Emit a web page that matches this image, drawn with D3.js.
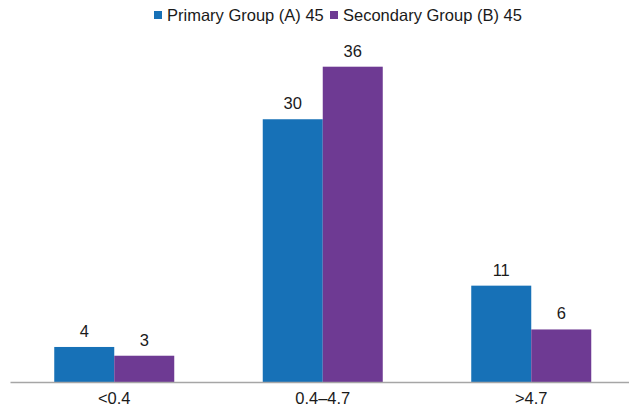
<!DOCTYPE html>
<html>
<head>
<meta charset="utf-8">
<script src="https://cdn.jsdelivr.net/npm/d3@7"></script>
<style>
  body { margin: 0; background: #fff; }
  text { font-family: "Liberation Sans", Arial, sans-serif; fill: #1a1a1a; }
</style>
</head>
<body>
<div id="chart"></div>
<script>
// Chart data
var categories = ['<0.4', '0.4\u20134.7', '>4.7'],
    seriesNames = ['Primary Group (A) 45', 'Secondary Group (B) 45'],
    primaryValues = [4, 30, 11],
    secondaryValues = [3, 36, 6],
    colors = ['#1771b7', '#6e3a93'];

var width = 629,
    height = 408,
    baseY = 382,
    fontSize = 16.5;

var svg = d3.select('#chart').append('svg')
    .attr('width', width)
    .attr('height', height);

var x = d3.scaleBand()
    .domain(categories)
    .range([10, 635.5])
    .paddingInner(0)
    .paddingOuter(0);

var xInner = d3.scaleBand()
    .domain(seriesNames)
    .range([0, x.bandwidth()])
    .paddingInner(0)
    .paddingOuter(0.7375);

var y = d3.scaleLinear()
    .domain([0, 36])
    .range([baseY, 66.7]);

var rows = categories.map(function(c, i) {
    return { cat: c, values: [primaryValues[i], secondaryValues[i]] };
});

var groups = svg.selectAll('g.group').data(rows).enter()
    .append('g')
    .attr('class', 'group')
    .attr('transform', function(d) { return 'translate(' + x(d.cat) + ',0)'; });

groups.selectAll('rect').data(function(d) {
        return d.values.map(function(v, j) { return { name: seriesNames[j], value: v, idx: j }; });
    }).enter()
    .append('rect')
    .attr('x', function(d) { return xInner(d.name); })
    .attr('y', function(d) { return y(d.value); })
    .attr('width', xInner.bandwidth())
    .attr('height', function(d) { return baseY - y(d.value); })
    .attr('fill', function(d) { return colors[d.idx]; });

// Value labels
groups.selectAll('text.value').data(function(d) {
        return d.values.map(function(v, j) { return { name: seriesNames[j], value: v }; });
    }).enter()
    .append('text')
    .attr('class', 'value')
    .attr('x', function(d) { return xInner(d.name) + xInner.bandwidth() / 2; })
    .attr('y', function(d) { return y(d.value) - 10; })
    .attr('text-anchor', 'middle')
    .style('font-size', fontSize + 'px')
    .text(function(d) { return d.value; });

// X axis
var xAxis = svg.append('g')
    .attr('transform', 'translate(0,' + baseY + ')')
    .call(d3.axisBottom(x).tickSize(0).tickPadding(10));
xAxis.select('.domain').attr('stroke', '#a6a6a6').attr('stroke-width', 1.5);
xAxis.selectAll('text')
    .style('font-size', fontSize + 'px')
    .style('font-family', '"Liberation Sans", Arial, sans-serif')
    .attr('fill', '#1a1a1a');

// Legend
var legend = svg.append('g').attr('class', 'legend');
var legendX = [154, 330];
seriesNames.forEach(function(name, i) {
    legend.append('rect')
        .attr('x', legendX[i])
        .attr('y', 11)
        .attr('width', 8)
        .attr('height', 8)
        .attr('fill', colors[i]);
    legend.append('text')
        .attr('x', legendX[i] + 13)
        .attr('y', 21)
        .style('font-size', fontSize + 'px')
        .text(name);
});
</script>
</body>
</html>
